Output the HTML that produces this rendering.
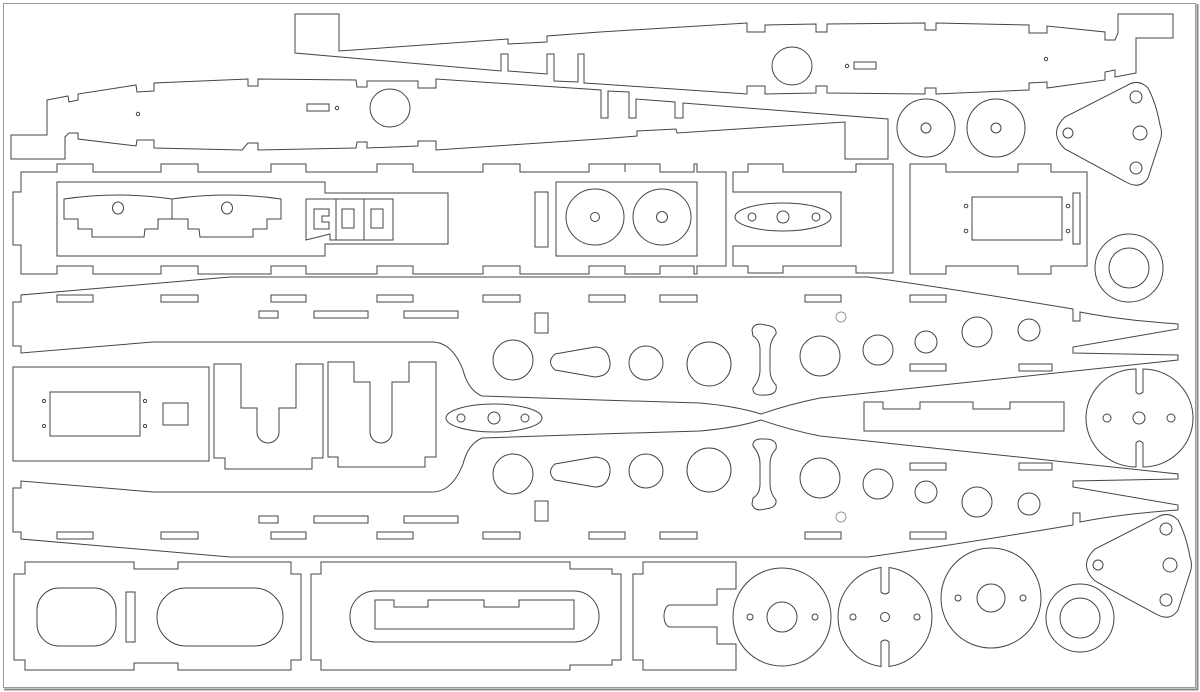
<!DOCTYPE html>
<html><head><meta charset="utf-8"><style>
html,body{margin:0;padding:0;background:#fff;}
svg{display:block;}
</style></head><body>
<svg width="1200" height="692" viewBox="0 0 1200 692" xmlns="http://www.w3.org/2000/svg">
<rect x="0" y="0" width="1200" height="692" fill="#fff"/>
<rect x="3.5" y="3.5" width="1192" height="684" fill="none" stroke="#999" stroke-width="1"/>
<line x1="4" y1="689.5" x2="1198" y2="689.5" stroke="#888" stroke-width="2"/>
<line x1="1197.5" y1="4" x2="1197.5" y2="690" stroke="#888" stroke-width="2"/>
<g fill="none" stroke="#444" stroke-width="1">
<!-- Piece A -->
<path d="M295,14 L339,14 L339,51 L508,39 L508,44 L547,42 L547,36 L600,32 L747,23 L747,32 L765,32 L765,25 L816,24 L816,32 L827,32 L827,24 L925,23 L925,30 L936,30 L936,23 L1029,25 L1029,33 L1047,33 L1047,26 L1105,32 L1105,40 L1115,40 L1118,33 L1118,14 L1173,14 L1173,38 L1136,38 L1136,73 L1115,77 L1115,70 L1105,72 L1105,80 L1047,88 L1047,82 L1029,83 L1029,90 L936,94 L936,88 L925,88 L925,94 L827,93 L827,86 L816,86 L816,93 L765,94 L765,86 L747,86 L747,94 L600,84 L584,83 L584,54 L578,54 L578,82 L554,81 L554,54 L547,54 L547,74 L508,71 L508,54 L501,54 L501,71 L295,53 Z"/>
<ellipse cx="792" cy="66" rx="20" ry="19"/>
<rect x="854" y="62" width="22" height="7"/>
<circle cx="847" cy="66" r="1.7"/>
<circle cx="1046" cy="59" r="1.7"/>
<!-- Piece B -->
<path d="M11,135 L47,135 L47,100 L68,96 L69,102 L78,100 L78,94 L136,85 L137,92 L154,91 L154,83 L248,79 L248,86 L258,86 L258,79 L356,80 L357,87 L367,87 L367,81 L418,81 L418,88 L436,88 L436,79 L601,90 L601,118 L608,118 L608,91 L629,92 L629,118 L636,118 L636,99 L675,102 L675,118 L683,118 L683,103 L888,119 L888,159 L845,159 L845,122 L677,133 L676,129 L637,131 L637,136 L600,139 L436,150 L436,141 L418,141 L418,146 L367,148 L367,142 L357,142 L356,148 L258,150 L258,143 L248,143 L242,150 L154,148 L154,140 L137,140 L136,146 L78,139 L78,133 L69,133 L65,137 L65,159 L11,159 Z"/>
<ellipse cx="390" cy="108" rx="20" ry="19"/>
<rect x="307" y="104" width="22" height="7"/>
<circle cx="337" cy="108" r="1.7"/>
<circle cx="138" cy="114" r="1.7"/>
<!-- Piece C -->
<path d="M21,172 L57,172 L57,164 L93,164 L93,172 L161,172 L161,164 L198,164 L198,172 L271,172 L271,164 L306,164 L306,172 L377,172 L377,164 L413,164 L413,172 L483,172 L483,164 L520,164 L520,172 L589,172 L589,164 L625,164 L625,172 L625,172 L625,164 L660,164 L660,172 L694,172 L694,164 L697,164 L697,172 L726,172 L726,266 L697,266 L697,274 L694,274 L694,266 L660,266 L660,274 L625,274 L625,266 L589,266 L589,274 L520,274 L520,266 L483,266 L483,274 L413,274 L413,266 L377,266 L377,274 L306,274 L306,266 L271,266 L271,274 L198,274 L198,266 L161,266 L161,274 L93,274 L93,266 L57,266 L57,274 L21,274 L21,266 L21,245 L13,245 L13,192 L21,192 Z"/>
<path d="M57,182 L325,182 L325,193 L448,193 L448,244 L325,244 L325,256 L57,256 Z"/>
<path d="M64,199 Q118,191 172,199 L172,219 L158,219 L158,229 L145,229 L144,237 L92,237 L92,229 L78,229 L78,219 L64,219 Z"/>
<path d="M172,199 Q227,191 281,199 L281,219 L267,219 L267,229 L253,229 L253,237 L200,237 L199,229 L188,229 L188,219 L172,219"/>
<ellipse cx="118" cy="208" rx="5.5" ry="6"/>
<ellipse cx="227" cy="208" rx="5.5" ry="6"/>
<path d="M306,199 L336,199 L336,240 L330,240 L330,234 L306,240 Z"/>
<path d="M314,209 L329,209 L329,216 L322,216 L322,222 L329,222 L329,229 L314,229 Z"/>
<rect x="336" y="199" width="28" height="41"/>
<rect x="342" y="209" width="12" height="19"/>
<rect x="364" y="199" width="29" height="41"/>
<rect x="371" y="209" width="12" height="19"/>
<rect x="535" y="192" width="13" height="55"/>
<rect x="556" y="182" width="141" height="74"/>
<ellipse cx="595" cy="217" rx="29" ry="28"/>
<ellipse cx="662" cy="217" rx="29" ry="28"/>
<circle cx="595" cy="217" r="4.5"/>
<circle cx="662" cy="217" r="5.5"/>
<!-- Piece D -->
<path d="M733,172 L748,172 L748,164 L783,164 L783,172 L856,172 L856,164 L893,164 L893,273 L856,273 L856,266 L783,266 L783,273 L748,273 L748,266 L733,266 L733,246 L841,246 L841,192 L733,192 Z"/>
<ellipse cx="783" cy="217" rx="48" ry="14"/>
<circle cx="752" cy="217" r="4"/>
<circle cx="783" cy="217" r="6"/>
<circle cx="816" cy="217" r="4"/>
<!-- Piece E -->
<path d="M910,164 L946,164 L946,172 L1018,172 L1018,164 L1051,164 L1051,172 L1087,172 L1087,266 L1051,266 L1051,274 L1018,274 L1018,266 L946,266 L946,274 L910,274 Z"/>
<rect x="972" y="197" width="90" height="43"/>
<circle cx="966" cy="206" r="1.8"/><circle cx="966" cy="231" r="1.8"/>
<circle cx="1068" cy="206" r="1.8"/><circle cx="1068" cy="231" r="1.8"/>
<rect x="1073" y="193" width="7" height="51"/>
<!-- top-right discs -->
<ellipse cx="926" cy="128" rx="29" ry="29"/><circle cx="926" cy="128" r="5"/>
<ellipse cx="996" cy="128" rx="29" ry="29"/><circle cx="996" cy="128" r="5"/>
<path id="tri" d="M1126,86 Q1138,78 1148,88 Q1156,103 1160,125 Q1163,133 1160,141 L1148,178 Q1140,190 1126,182 L1065,149 Q1048,133 1065,117 Z"/>
<circle cx="1136" cy="97" r="6"/><circle cx="1140" cy="133" r="7"/><circle cx="1136" cy="168" r="6"/><circle cx="1068" cy="133" r="5"/>
<circle cx="1129" cy="268" r="34"/><circle cx="1129" cy="268" r="20"/>
<!-- Wishbone plates -->
<g id="plate">
<path d="M13,302 L21,302 L21,295 L230,277 L600,277 L868,277 Q960,290 1073,309 L1073,321 L1080,321 L1080,312 Q1120,320 1178,324 L1178,329 L1073,347 L1073,353 L1178,355 L1178,360 L820,398 Q790,404 761,414 Q735,406 700,403 L600,400 L482,396 Q468,390 463,370 Q452,342 432,342 L153,342 L21,353 L21,346 L13,346 Z"/>
<rect x="57" y="295" width="36" height="7"/><rect x="161" y="295" width="37" height="7"/><rect x="271" y="295" width="35" height="7"/><rect x="377" y="295" width="36" height="7"/><rect x="483" y="295" width="37" height="7"/><rect x="589" y="295" width="36" height="7"/><rect x="660" y="295" width="37" height="7"/><rect x="805" y="295" width="36" height="7"/><rect x="910" y="295" width="36" height="7"/>
<rect x="259" y="311" width="19" height="7"/><rect x="314" y="311" width="54" height="7"/><rect x="404" y="311" width="54" height="7"/>
<rect x="535" y="313" width="13" height="20"/>
<circle cx="513" cy="360" r="20"/>
<path d="M555,354 Q546,362 555,370 L595,377 Q611,376 610,362 Q608,347 595,347 Z"/>
<circle cx="646" cy="363" r="17"/>
<circle cx="709" cy="364" r="22"/>
<path d="M752,330 Q754,322 765,325 Q777,326 776,334 Q770,341 770,350 L770,370 Q770,379 776,385 Q778,395 765,395 Q752,396 753,388 Q760,380 760,370 L760,350 Q760,340 753,336 Z"/>
<circle cx="820" cy="356" r="20"/>
<circle cx="878" cy="350" r="15"/>
<circle cx="926" cy="342" r="11"/>
<circle cx="977" cy="332" r="15"/>
<circle cx="1029" cy="330" r="11"/>
<rect x="910" y="364" width="36" height="7"/><rect x="1019" y="364" width="33" height="7"/>
<circle cx="841" cy="317" r="5" stroke="#999"/>
</g>
<use href="#plate" transform="translate(0,834) scale(1,-1)"/>
<!-- middle -->
<ellipse cx="494" cy="418" rx="48" ry="14"/>
<circle cx="461" cy="418" r="4"/><circle cx="494" cy="418" r="6"/><circle cx="525" cy="418" r="4"/>
<path d="M864,402 L883,402 L883,409 L920,409 L920,402 L973,402 L973,409 L1010,409 L1010,402 L1064,402 L1064,431 L864,431 Z"/>
<path d="M1136,369 A50,49 0 0,0 1136,467 L1136,443 Q1139,439 1143,443 L1143,467 A50,49 0 0,0 1143,369 L1143,392 Q1139,396 1136,392 Z"/>
<circle cx="1107" cy="418" r="4"/><circle cx="1139" cy="418" r="6"/><circle cx="1171" cy="418" r="4"/>
<rect x="13" y="367" width="196" height="94"/>
<rect x="50" y="392" width="90" height="44"/>
<circle cx="44" cy="401" r="1.6"/><circle cx="44" cy="426" r="1.6"/><circle cx="145" cy="401" r="1.6"/><circle cx="145" cy="426" r="1.6"/>
<rect x="163" y="403" width="25" height="22"/>
<path d="M214,364 L241,364 L241,408 L257,408 L257,432 A11,11 0 0,0 279,432 L279,408 L296,408 L296,364 L323,364 L323,458 L312,458 L312,469 L225,469 L225,458 L214,458 Z"/>
<path d="M328,362 L354,362 L354,382 L370,382 L370,432 A11,11 0 0,0 392,432 L392,382 L409,382 L409,362 L436,362 L436,457 L425,457 L425,467 L338,467 L338,457 L328,457 Z"/>
<!-- bottom row -->
<path d="M25,562 L134,562 L134,569 L178,569 L178,562 L291,562 L291,574 L301,574 L301,660 L291,660 L291,670 L178,670 L178,663 L134,663 L134,670 L25,670 L25,660 L14,660 L14,574 L25,574 Z"/>
<rect x="37" y="588" width="79" height="58" rx="22" ry="22"/>
<rect x="157" y="588" width="126" height="58" rx="29" ry="29"/>
<rect x="126" y="592" width="9" height="50"/>
<path d="M321,562 L570,562 L570,569 L612,569 L612,574 L621,574 L621,660 L612,660 L612,665 L570,665 L570,670 L321,670 L321,660 L311,660 L311,574 L321,574 Z"/>
<rect x="350" y="591" width="249" height="51" rx="25" ry="25"/>
<path d="M375,600 L394,600 L394,607 L428,607 L428,600 L484,600 L484,607 L519,607 L519,600 L574,600 L574,629 L375,629 Z"/>
<path d="M643,562 L736,562 L736,589 L717,589 L717,605 L670,605 A6,11 0 0,0 670,627 L717,627 L717,644 L736,644 L736,670 L643,670 L643,660 L633,660 L633,574 L643,574 Z"/>
<circle cx="782" cy="617" r="49"/><circle cx="782" cy="617" r="15"/>
<circle cx="750" cy="617" r="3"/><circle cx="815" cy="617" r="3"/>
<path d="M881,567.5 A50,50 0 0,0 881,666.5 L881,642 Q885,638 889,642 L889,666.5 A50,50 0 0,0 889,567.5 L889,592 Q885,596 881,592 Z"/>
<circle cx="853" cy="617" r="3"/><circle cx="885" cy="617" r="4.5"/><circle cx="917" cy="617" r="3"/>
<circle cx="991" cy="598" r="50"/><circle cx="991" cy="598" r="14"/>
<circle cx="958" cy="598" r="3"/><circle cx="1023" cy="598" r="3"/>
<circle cx="1080" cy="618" r="34"/><circle cx="1080" cy="618" r="20"/>
<g transform="translate(30,432)">
<path d="M1126,86 Q1138,78 1148,88 Q1156,103 1160,125 Q1163,133 1160,141 L1148,178 Q1140,190 1126,182 L1065,149 Q1048,133 1065,117 Z"/>
<circle cx="1136" cy="97" r="6"/><circle cx="1140" cy="133" r="7"/><circle cx="1136" cy="168" r="6"/><circle cx="1068" cy="133" r="5"/>
</g>
</g>
</svg>
</body></html>
